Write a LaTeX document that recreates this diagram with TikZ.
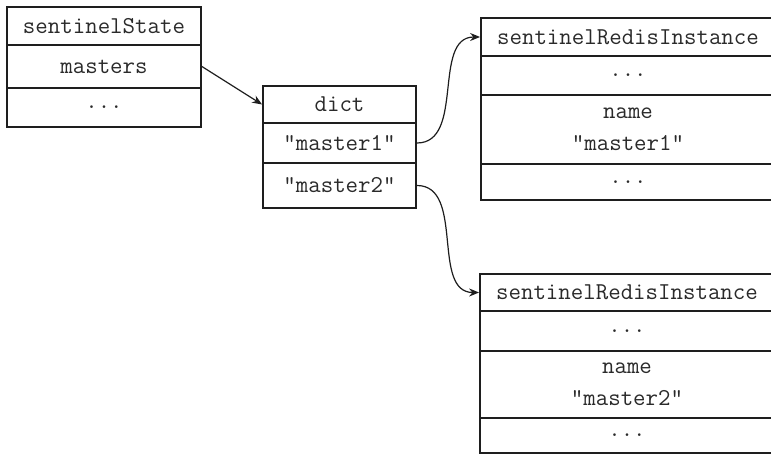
\documentclass[tikz,border=0pt]{standalone}
\usepackage{fontspec}
\usetikzlibrary{arrows.meta}
\definecolor{ink}{HTML}{1E1E1E}
\definecolor{txt}{HTML}{2A2A2A}
\newcommand\dq{\char34\relax}
\tikzset{
  cell/.style={draw=ink, line width=0.9pt, inner sep=0pt, anchor=center,
    text=txt, font=\ttfamily\fontsize{12.1}{16}\selectfont, align=center},
  link/.style={draw=ink, line width=0.6pt, -{Stealth[length=5pt,width=4pt]}}
}
\begin{document}
\begin{tikzpicture}[x=0.5pt,y=-0.5pt]
\useasboundingbox (0,0) rectangle (771,454);
% sentinelState
\node[cell, minimum width=97pt, minimum height=19pt]   (s1) at (104,26)    {sentinelState};
\node[cell, minimum width=97pt, minimum height=21.5pt] (s2) at (104,66.5)  {masters};
\node[cell, minimum width=97pt, minimum height=19.5pt] (s3) at (104,107.5) {...};
% dict
\node[cell, minimum width=76.5pt, minimum height=18.5pt] (d1) at (339.5,104.5) {dict};
\node[cell, minimum width=76.5pt, minimum height=20pt]   (d2) at (339.5,143)   {\dq master1\dq};
\node[cell, minimum width=76.5pt, minimum height=22.5pt] (d3) at (339.5,185.5) {\dq master2\dq};
% sentinelRedisInstance 1
\node[cell, minimum width=147pt, minimum height=19pt]   (a1) at (628,37)    {sentinelRedisInstance};
\node[cell, minimum width=147pt, minimum height=19.5pt] (a2) at (628,75.5)  {...};
\node[cell, minimum width=147pt, minimum height=34.5pt] (a3) at (628,129.5) {name\\\dq master1\dq};
\node[cell, minimum width=147pt, minimum height=18pt]   (a4) at (628,182)   {...};
% sentinelRedisInstance 2
\node[cell, minimum width=147pt, minimum height=18.5pt] (b1) at (627,292.5) {sentinelRedisInstance};
\node[cell, minimum width=147pt, minimum height=20pt]   (b2) at (627,331)   {...};
\node[cell, minimum width=147pt, minimum height=33.5pt] (b3) at (627,384.5) {name\\\dq master2\dq};
\node[cell, minimum width=147pt, minimum height=17.5pt] (b4) at (627,435.5) {...};
% connectors
\draw[link] (s2.east) -- (d1.west);
\draw[link] (d2.east) to[out=0,in=180] (a1.west);
\draw[link] (d3.east) to[out=0,in=180] (b1.west);
\end{tikzpicture}
\end{document}
